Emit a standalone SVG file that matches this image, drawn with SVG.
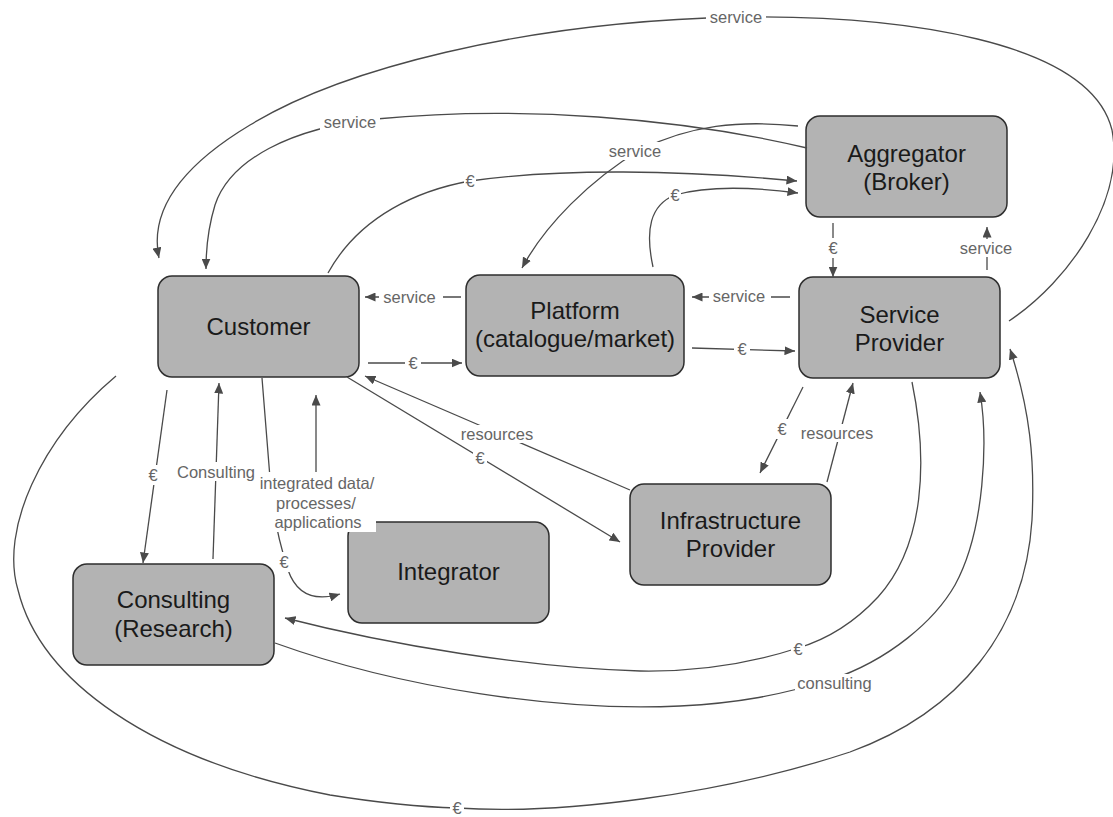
<svg xmlns="http://www.w3.org/2000/svg" width="1113" height="817" viewBox="0 0 1113 817">
  <style>
    .node rect { fill: #b3b3b3; stroke: #2e2e2e; stroke-width: 1.5; }
    .node text { font-family: "Liberation Sans", Arial, sans-serif; font-size: 24px; fill: #1a1a1a; text-anchor: middle; }
    .edge { fill: none; stroke: #4a4a4a; stroke-width: 1.3; }
    .arr { marker-end: url(#head); }
    .lbl rect { fill: #ffffff; }
    .lbl text { font-family: "Liberation Sans", Arial, sans-serif; font-size: 16.5px; fill: #666666; text-anchor: middle; }
  </style>
  <defs>
    <marker id="head" markerUnits="userSpaceOnUse" markerWidth="11" markerHeight="9" refX="10.5" refY="4.5" orient="auto">
      <path d="M0,0 L10.5,4.5 L0,9 Z" fill="#4a4a4a"/>
    </marker>
  </defs>

  <rect width="1113" height="817" fill="#ffffff"/>

  <!-- nodes -->
  <g id="customer" class="node">
    <rect x="158" y="276" width="201" height="101" rx="14"/>
    <text x="258.5" y="335">Customer</text>
  </g>
  <g id="platform" class="node">
    <rect x="466" y="275" width="218" height="101" rx="14"/>
    <text x="575" y="319">Platform</text>
    <text x="575" y="347">(catalogue/market)</text>
  </g>
  <g id="aggregator" class="node">
    <rect x="806" y="116" width="201" height="101" rx="14"/>
    <text x="906.5" y="162">Aggregator</text>
    <text x="906.5" y="190">(Broker)</text>
  </g>
  <g id="service-provider" class="node">
    <rect x="799" y="277" width="201" height="101" rx="14"/>
    <text x="899.5" y="323">Service</text>
    <text x="899.5" y="351">Provider</text>
  </g>
  <g id="infrastructure-provider" class="node">
    <rect x="630" y="484" width="201" height="101" rx="14"/>
    <text x="730.5" y="529">Infrastructure</text>
    <text x="730.5" y="557">Provider</text>
  </g>
  <g id="integrator" class="node">
    <rect x="348" y="522" width="201" height="101" rx="14"/>
    <text x="448.5" y="580">Integrator</text>
  </g>
  <g id="consulting" class="node">
    <rect x="73" y="564" width="201" height="101" rx="14"/>
    <text x="173.5" y="608">Consulting</text>
    <text x="173.5" y="637">(Research)</text>
  </g>

  <!-- connectors -->
  <g id="connectors">
    <!-- service provider -> customer (outer top loop) -->
    <path class="edge arr" d="M1009,321 C1070,280 1125,200 1112,130 C1090,40 900,15 737,17 C520,22 340,70 250,125 C175,170 150,215 159,258"/>
    <!-- aggregator -> customer -->
    <path class="edge arr" d="M807,148 C680,118 520,105 376,119 C290,128 230,160 215,205 C208,228 206,250 206,269"/>
    <!-- aggregator -> platform -->
    <path class="edge arr" d="M798,126 C740,120 690,125 640,150 C590,180 545,225 522,268"/>
    <!-- customer -> aggregator -->
    <path class="edge arr" d="M328,273 C360,215 420,190 470,181 C560,168 680,170 797,181"/>
    <!-- platform -> aggregator -->
    <path class="edge arr" d="M653,267 C645,230 650,205 675,195 C710,185 760,188 798,193"/>
    <!-- platform <-> customer -->
    <path class="edge arr" d="M461,297 L365,297"/>
    <path class="edge arr" d="M368,363 L462,363"/>
    <!-- service provider <-> platform -->
    <path class="edge arr" d="M790,297 L692,297"/>
    <path class="edge arr" d="M692,348 L795,351"/>
    <!-- aggregator <-> service provider -->
    <path class="edge arr" d="M833,223 L833,277"/>
    <path class="edge arr" d="M987,270 L987,227"/>
    <!-- service provider <-> infrastructure provider -->
    <path class="edge arr" d="M803,387 L760,473"/>
    <path class="edge arr" d="M827,482 L853,383"/>
    <!-- infrastructure provider <-> customer -->
    <path class="edge arr" d="M630,490 L365,376"/>
    <path class="edge arr" d="M347,377 L620,542"/>
    <!-- customer <-> consulting -->
    <path class="edge arr" d="M167,390 L143,563"/>
    <path class="edge arr" d="M213,559 L219,383"/>
    <!-- customer <-> integrator -->
    <path class="edge arr" d="M262,378 L270,478 C272,510 280,545 288,570 C295,590 310,603 340,594"/>
    <path class="edge arr" d="M316,522 L316,395"/>
    <!-- service provider -> consulting -->
    <path class="edge arr" d="M912,382 C928,460 925,545 878,597 C852,625 825,640 798,648 C755,662 700,672 640,671 C530,668 390,645 285,618"/>
    <!-- consulting -> service provider -->
    <path class="edge arr" d="M275,643 C400,688 560,712 680,706 C740,703 780,695 830,680 C890,660 935,620 955,585 C985,530 988,440 980,392"/>
    <!-- customer -> service provider (outer bottom loop) -->
    <path class="edge arr" d="M116,376 C40,440 0,530 18,590 C40,680 150,760 330,795 C380,803 420,807 457,808 C560,815 720,795 850,752 C960,712 1025,630 1032,520 C1035,460 1030,410 1010,349"/>
  </g>

  <!-- connector labels -->
  <g id="labels">
    <g class="lbl"><rect x="706" y="8" width="60" height="18"/><text x="736" y="23">service</text></g>
    <g class="lbl"><rect x="320" y="113" width="60" height="18"/><text x="350" y="128">service</text></g>
    <g class="lbl"><rect x="605" y="142" width="60" height="18"/><text x="635" y="157">service</text></g>
    <g class="lbl"><rect x="464" y="172" width="12" height="18"/><text x="470" y="187">€</text></g>
    <g class="lbl"><rect x="669" y="186" width="12" height="18"/><text x="675" y="201">€</text></g>
    <g class="lbl"><rect x="379" y="288" width="64" height="18"/><text x="409.5" y="303">service</text></g>
    <g class="lbl"><rect x="405" y="354" width="16" height="18"/><text x="413" y="369">€</text></g>
    <g class="lbl"><rect x="709" y="287" width="62" height="18"/><text x="739" y="302">service</text></g>
    <g class="lbl"><rect x="734" y="340" width="16" height="18"/><text x="742" y="355">€</text></g>
    <g class="lbl"><rect x="826" y="238" width="14" height="20"/><text x="833" y="254">€</text></g>
    <g class="lbl"><rect x="957" y="239" width="58" height="18"/><text x="986" y="254">service</text></g>
    <g class="lbl"><rect x="775" y="419" width="14" height="20"/><text x="782" y="435">€</text></g>
    <g class="lbl"><rect x="798" y="424" width="78" height="18"/><text x="837" y="439">resources</text></g>
    <g class="lbl"><rect x="458" y="425" width="78" height="18"/><text x="497" y="440">resources</text></g>
    <g class="lbl"><rect x="473" y="448" width="14" height="20"/><text x="480" y="464">€</text></g>
    <g class="lbl"><rect x="146" y="465" width="14" height="20"/><text x="153" y="481">€</text></g>
    <g class="lbl"><rect x="174" y="462" width="84" height="19"/><text x="216" y="478">Consulting</text></g>
    <g class="lbl">
      <rect x="258" y="472" width="118" height="60"/>
      <text x="317" y="489">integrated data/</text>
      <text x="316" y="509">processes/</text>
      <text x="318" y="528">applications</text>
    </g>
    <g class="lbl"><rect x="277" y="552" width="14" height="20"/><text x="284" y="568">€</text></g>
    <g class="lbl"><rect x="791" y="639" width="14" height="19"/><text x="798" y="655">€</text></g>
    <g class="lbl"><rect x="795" y="674" width="79" height="18"/><text x="834.5" y="689">consulting</text></g>
    <g class="lbl"><rect x="450" y="798" width="14" height="19"/><text x="457" y="814">€</text></g>
  </g>
</svg>
